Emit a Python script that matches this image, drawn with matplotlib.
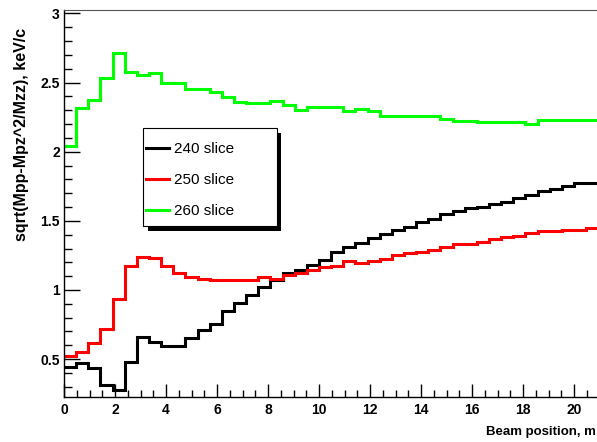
import numpy as np
import matplotlib
matplotlib.use("Agg")
from matplotlib import pyplot as plt
from matplotlib.patches import Rectangle
from matplotlib.ticker import MultipleLocator, FuncFormatter

plt.rcParams['font.family'] = ['Liberation Sans', 'DejaVu Sans']

# 44 bins along the beam, 0 .. ~20.95 m
bin_edges = np.linspace(0.0, 440 / 21, 45)

slice_240 = [0.445, 0.470, 0.436, 0.313, 0.277, 0.482, 0.662, 0.626, 0.595, 0.595,
             0.651, 0.708, 0.755, 0.847, 0.904, 0.963, 1.018, 1.072, 1.120, 1.142,
             1.181, 1.220, 1.277, 1.313, 1.343, 1.376, 1.404, 1.434, 1.458, 1.492,
             1.513, 1.547, 1.571, 1.591, 1.602, 1.620, 1.638, 1.663, 1.687, 1.716,
             1.730, 1.752, 1.771, 1.771]
slice_250 = [0.525, 0.549, 0.619, 0.720, 0.935, 1.174, 1.241, 1.229, 1.174, 1.121,
             1.096, 1.083, 1.070, 1.070, 1.070, 1.070, 1.094, 1.083, 1.106, 1.122,
             1.146, 1.165, 1.176, 1.207, 1.197, 1.208, 1.226, 1.251, 1.265, 1.276,
             1.289, 1.309, 1.333, 1.333, 1.347, 1.366, 1.381, 1.393, 1.414, 1.424,
             1.424, 1.436, 1.436, 1.448]
slice_260 = [2.043, 2.318, 2.374, 2.531, 2.711, 2.578, 2.555, 2.567, 2.499, 2.499,
             2.451, 2.451, 2.429, 2.393, 2.362, 2.350, 2.350, 2.364, 2.338, 2.302,
             2.325, 2.325, 2.325, 2.294, 2.307, 2.294, 2.258, 2.258, 2.258, 2.258,
             2.258, 2.238, 2.225, 2.225, 2.215, 2.215, 2.215, 2.215, 2.201, 2.227,
             2.227, 2.227, 2.227, 2.227]

series = [(slice_240, 'black', '240 slice'),
          (slice_250, '#ff0000', '250 slice'),
          (slice_260, '#00ff00', '260 slice')]

W, H = 597, 442
fig = plt.figure(figsize=(W / 100, H / 100), dpi=100)
ax = fig.add_axes([64 / W, 1 - 397 / H, 1 - 64 / W, (397 - 10) / H])

handles = []
for vals, col, lab in series:
    h = ax.stairs(vals, bin_edges, baseline=None, color=col, lw=2.2, label=lab)
    handles.append(h)

ax.set_xlim(0, 20.90)
ax.set_ylim(0.226, 3.025)

ax.xaxis.set_major_locator(MultipleLocator(2))
ax.xaxis.set_minor_locator(MultipleLocator(0.5))
ax.yaxis.set_major_locator(MultipleLocator(0.5))
ax.yaxis.set_minor_locator(MultipleLocator(0.1))
ax.yaxis.set_major_formatter(FuncFormatter(lambda v, p: '%g' % v))

ax.tick_params(axis='y', which='major', direction='in', length=11.5, width=1.0,
               pad=3, labelsize=10)
ax.tick_params(axis='y', which='minor', direction='in', length=5.8, width=1.0)
ax.tick_params(axis='x', which='major', direction='in', length=9.4, width=1.0,
               pad=4, labelsize=10)
ax.tick_params(axis='x', which='minor', direction='in', length=5.0, width=1.0)
for lbl in ax.get_xticklabels() + ax.get_yticklabels():
    lbl.set_fontweight('bold')

ax.spines['right'].set_visible(False)
ax.spines['top'].set_color('#555555')
ax.spines['left'].set_linewidth(1.0)
ax.spines['bottom'].set_linewidth(1.0)

fig.text(22 / W, 1 - 134 / H, 'sqrt(Mpp-Mpz^2/Mzz), keV/c', rotation=90,
         ha='center', va='center', fontsize=11.5, fontweight='bold')
fig.text(596 / W, 1 - 432 / H, 'Beam position, m', ha='right', va='center',
         fontsize=9.5, fontweight='bold')

# legend box with ROOT-like drop shadow
shadow = Rectangle((148 / W, 1 - 231 / H), 133 / W, 98 / H, transform=fig.transFigure,
                   facecolor='black', edgecolor='none', zorder=3)
box = Rectangle((143 / W, 1 - 226 / H), 134 / W, 98 / H, transform=fig.transFigure,
                facecolor='white', edgecolor='black', lw=0.8, zorder=4)
fig.patches.extend([shadow, box])

leg = fig.legend(handles=handles, loc='upper left',
                 bbox_to_anchor=(146 / W, 1 - 142 / H), bbox_transform=fig.transFigure,
                 frameon=False, fontsize=11, borderpad=0, borderaxespad=0,
                 handlelength=1.5, handletextpad=0.35, labelspacing=1.12)
leg.set_zorder(5)
for lh in leg.legend_handles:
    lh.set_linewidth(2.2)

fig.savefig('out.png', dpi=100)
